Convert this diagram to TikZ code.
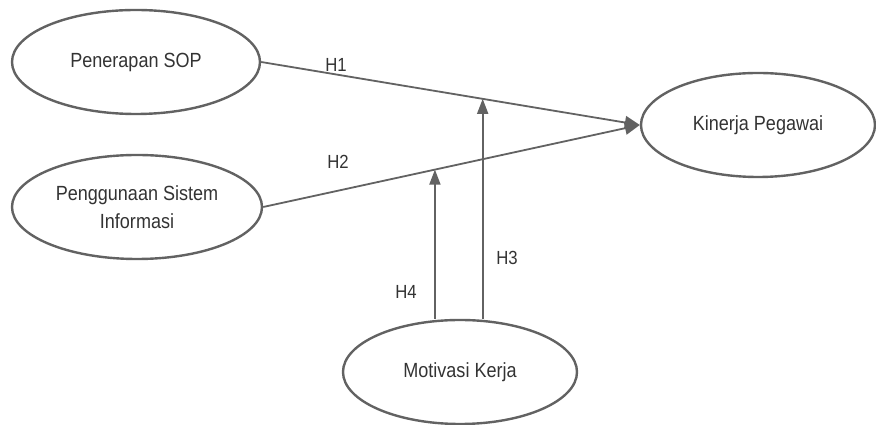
\documentclass[tikz,border=0pt]{standalone}
\usepackage{fontspec}
\setmainfont{Liberation Sans}[FakeStretch=0.88]
\usepackage{xcolor}
\usetikzlibrary{shapes.geometric,arrows.meta}
\definecolor{linegray}{HTML}{626262}
\definecolor{textgray}{HTML}{333333}

\begin{document}
\begin{tikzpicture}[x=1pt,y=1pt,
  var/.style={ellipse, draw=linegray, line width=2.4pt, inner sep=0pt, text=textgray,
    font=\fontsize{20.5}{28}\selectfont, align=center},
  path/.style={draw=linegray, line width=1.8pt, -{Triangle[length=15pt,width=13pt]}},
  moder/.style={draw=linegray, line width=1.8pt, -{Triangle[length=15pt,width=11pt]}},
  lbl/.style={text=textgray, font=\fontsize{19}{22}\selectfont}]
\useasboundingbox (0,0) rectangle (876,425);
\node[var, minimum width=248, minimum height=104] (sop) at (136,363) {Penerapan SOP};
\node[var, minimum width=250, minimum height=104] (sim) at (137,218) {Penggunaan Sistem\\Informasi};
\node[var, minimum width=234, minimum height=104] (kinerja) at (758,300) {Kinerja Pegawai};
\node[var, minimum width=234, minimum height=104] (motivasi) at (460,53) {Motivasi Kerja};
\draw[path] (sop.east) -- coordinate[pos=0.585] (h3top) (kinerja.west);
\draw[path] (sim.east) -- coordinate[pos=0.456] (h4top) (kinerja.west);
\draw[moder] (h3top |- motivasi.north) -- (h3top);
\draw[moder] (h4top |- motivasi.north) -- (h4top);
\node[lbl] (h1) at (336,360) {H1};
\node[lbl] (h2) at (338,263) {H2};
\node[lbl] (h3) at (507,167) {H3};
\node[lbl] (h4) at (406,133) {H4};
\end{tikzpicture}
\end{document}
